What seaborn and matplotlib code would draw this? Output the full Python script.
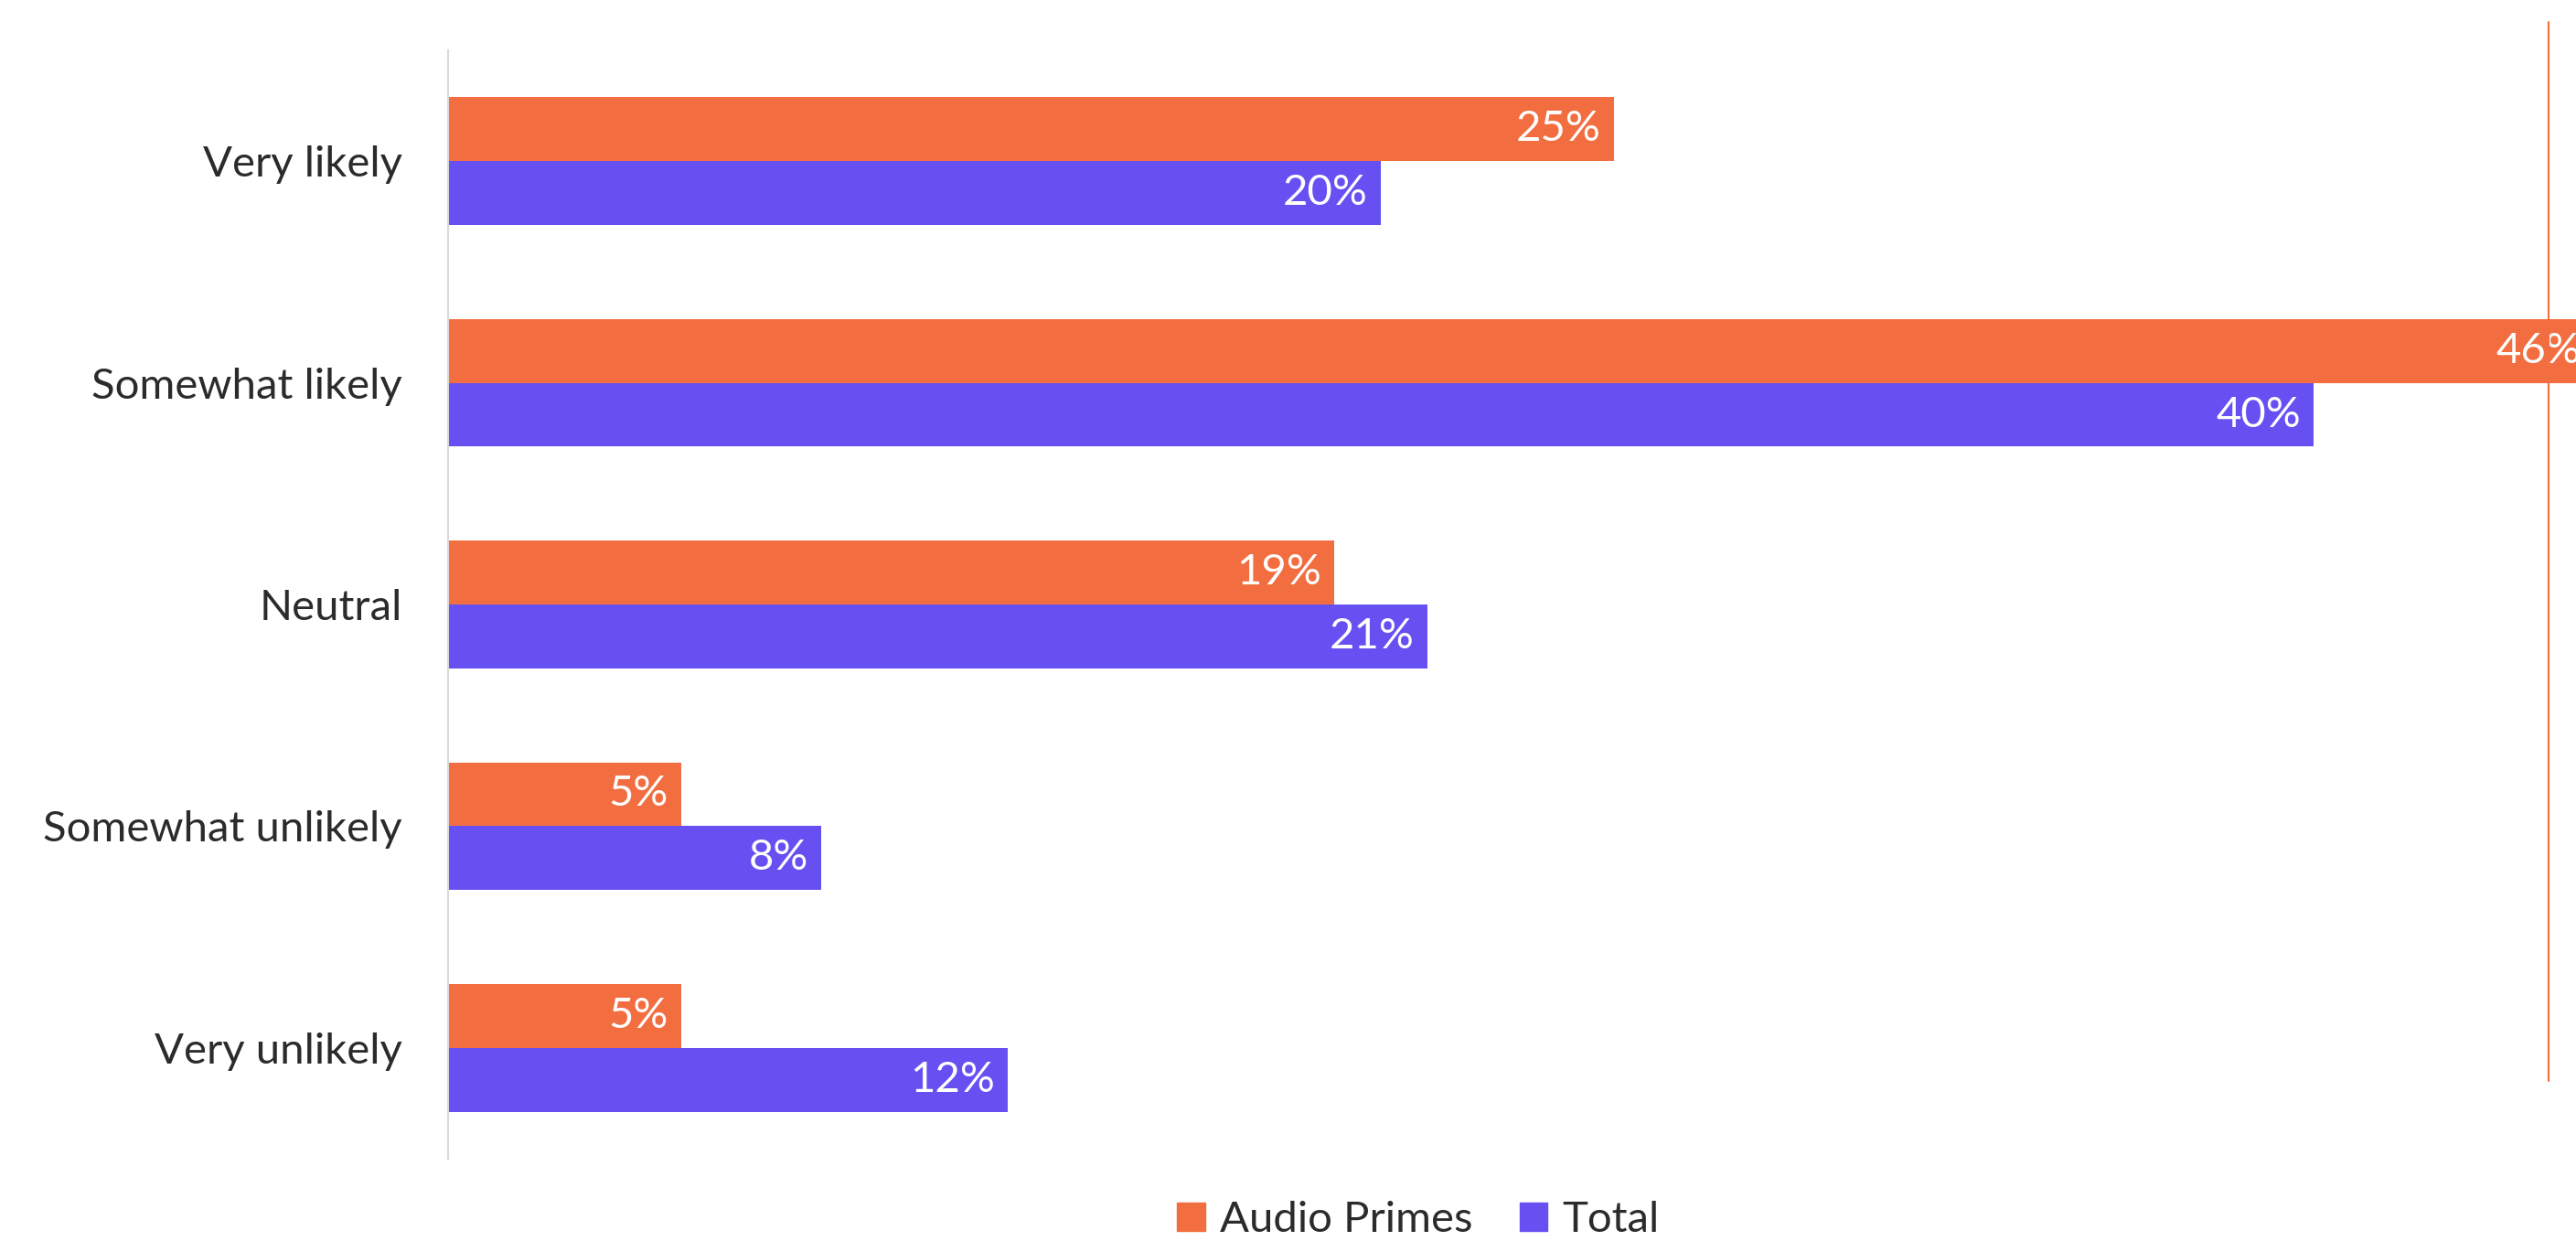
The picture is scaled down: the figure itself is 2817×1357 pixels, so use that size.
import pandas as pd
import seaborn as sns
import matplotlib.pyplot as plt
from matplotlib.lines import Line2D

categories = ['Very likely', 'Somewhat likely', 'Neutral', 'Somewhat unlikely', 'Very unlikely']
audio_primes = [25, 46, 19, 5, 5]
total = [20, 40, 21, 8, 12]
series = ['Audio Primes', 'Total']
colors = ['#F26E40', '#6750F2']

df = pd.DataFrame({
    'answer': categories * 2,
    'share': audio_primes + total,
    'group': [series[0]] * len(categories) + [series[1]] * len(categories),
})

sns.set_style('white')
plt.rcParams['font.family'] = ['Lato', 'DejaVu Sans']

fig = plt.figure(figsize=(28.17, 13.57), dpi=100)
ax = fig.add_axes([490 / 2817, 1 - 1267 / 1357, 1 - 490 / 2817, (1267 - 55) / 1357])

sns.barplot(data=df, x='share', y='answer', hue='group', order=categories,
            hue_order=series, palette=colors, orient='h', width=0.576,
            saturation=1, linewidth=0, ax=ax, legend=True)

ax.set_xlim(0, (2817 - 490) / 51)
ax.set_ylim(len(categories) - 0.5, -0.5)

for cont in ax.containers:
    texts = ax.bar_label(cont, labels=[f'{v:.0f}%' for v in cont.datavalues],
                         padding=-10, color='white', fontsize=34)
    for t in texts:
        t.set_horizontalalignment('right')
        t.set_annotation_clip(False)
        t.set_clip_on(False)

ax.set_xlabel('')
ax.set_ylabel('')
ax.set_xticks([])
ax.tick_params(axis='y', length=0, pad=36, labelsize=34, labelcolor='#2b2b2b')
for s in ['top', 'right', 'bottom']:
    ax.spines[s].set_visible(False)
ax.spines['left'].set_color('#d9d9d9')
ax.spines['left'].set_linewidth(1.5)

ax.legend_.remove()
handles = [plt.Rectangle((0, 0), 1, 1, color=c) for c in colors]
fig.legend(handles, series, loc='center', bbox_to_anchor=(1551 / 2817, 1 - 1334 / 1357),
           ncol=2, frameon=False, fontsize=34, handlelength=0.64, handleheight=0.64,
           handletextpad=0.34, columnspacing=1.1, labelcolor='#2b2b2b')

# thin orange rule on the right edge
fig.add_artist(Line2D([2787 / 2817, 2787 / 2817], [1 - 1182 / 1357, 1 - 24 / 1357],
                      color=colors[0], lw=1.5, transform=fig.transFigure))

fig.savefig('out.png', dpi=100)
